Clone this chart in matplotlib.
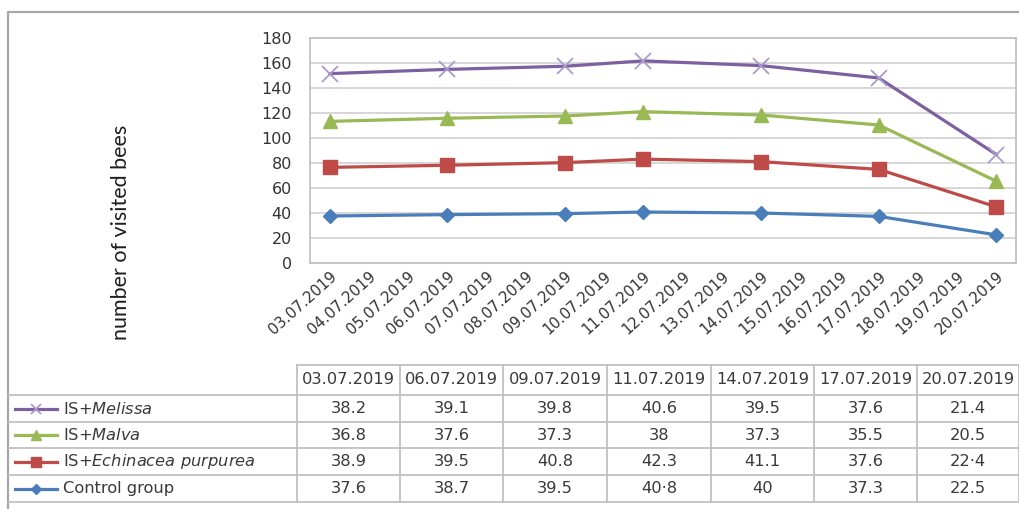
import matplotlib
matplotlib.use("Agg")
import matplotlib.pyplot as plt
import matplotlib.dates as mdates
from matplotlib.lines import Line2D
import numpy as np
import datetime as dt

# ---------------- data ----------------
dates = ["03.07.2019", "06.07.2019", "09.07.2019", "11.07.2019",
         "14.07.2019", "17.07.2019", "20.07.2019"]
control = [37.6, 38.7, 39.5, 40.8, 40, 37.3, 22.5]
echinacea = [38.9, 39.5, 40.8, 42.3, 41.1, 37.6, 22.4]
malva = [36.8, 37.6, 37.3, 38, 37.3, 35.5, 20.5]
melissa = [38.2, 39.1, 39.8, 40.6, 39.5, 37.6, 21.4]
table_value_text = {
    "melissa": ["38.2", "39.1", "39.8", "40.6", "39.5", "37.6", "21.4"],
    "malva": ["36.8", "37.6", "37.3", "38", "37.3", "35.5", "20.5"],
    "echinacea": ["38.9", "39.5", "40.8", "42.3", "41.1", "37.6", "22·4"],
    "control": ["37.6", "38.7", "39.5", "40·8", "40", "37.3", "22.5"],
}
y_ticks = [0, 20, 40, 60, 80, 100, 120, 140, 160, 180]
y_label = "number of visited bees"

W, H = 1019, 509
plt.rcParams['font.family'] = ['DejaVu Sans']
plt.rcParams['mathtext.fontset'] = 'custom'
plt.rcParams['mathtext.it'] = 'DejaVu Sans:italic'
plt.rcParams['mathtext.rm'] = 'DejaVu Sans'

fig = plt.figure(figsize=(W / 100, H / 100), dpi=100)
fig.patch.set_facecolor('white')

def fx(x):
    return x / W

def fy(y):
    return 1 - y / H

# plot area
left, right, top, bottom = 310, 1016, 38, 263
ax = fig.add_axes([fx(left), fy(bottom), fx(right) - fx(left), fy(top) - fy(bottom)])

xd = [dt.datetime.strptime(d, "%d.%m.%Y") for d in dates]
xn = mdates.date2num(xd)

s1 = np.array(control)
s2 = s1 + np.array(echinacea)
s3 = s2 + np.array(malva)
s4 = s3 + np.array(melissa)

c_blue = '#4A7EBB'
c_red = '#BE4B48'
c_green = '#98B954'
c_purple = '#7D60A0'

series = [
    dict(y=s4, color=c_purple, marker='x', ms=11, mfc='#A99BCB', mec='#A99BCB', mew=1.3, key='melissa',
         label=r"IS+$\it{Melissa}$"),
    dict(y=s3, color=c_green, marker='^', ms=10, mfc=c_green, mec=c_green, mew=1, key='malva',
         label=r"IS+$\it{Malva}$"),
    dict(y=s2, color=c_red, marker='s', ms=10, mfc=c_red, mec=c_red, mew=1, key='echinacea',
         label=r"IS+$\it{Echinacea\ purpurea}$"),
    dict(y=s1, color=c_blue, marker='D', ms=7, mfc=c_blue, mec=c_blue, mew=1, key='control',
         label="Control group"),
]
for s in series:
    ax.plot(xn, s['y'], color=s['color'], lw=2.3, marker=s['marker'], ms=s['ms'],
            mfc=s['mfc'], mec=s['mec'], mew=s['mew'], zorder=3)

ax.set_ylim(0, 180)
ax.set_yticks(y_ticks)
ax.set_xlim(xn[0] - 0.5, xn[-1] + 0.5)
day_ticks = np.arange(xn[0], xn[-1] + 0.5, 1.0)
ax.set_xticks(day_ticks)
ax.xaxis.set_major_formatter(mdates.DateFormatter('%d.%m.%Y'))
ax.grid(axis='y', color='#D0D0D0', lw=1.2)
ax.set_axisbelow(True)
for sp in ax.spines.values():
    sp.set_color('#BEBEBE')
    sp.set_linewidth(1.2)
ax.tick_params(axis='both', length=0, colors='#333333')
ax.tick_params(axis='y', labelsize=11.5, pad=13)
ax.tick_params(axis='x', labelsize=10.8, pad=4)
for lab in ax.get_xticklabels():
    lab.set_rotation(42)
    lab.set_ha('right')
    lab.set_va('top')
    lab.set_rotation_mode('anchor')

fig.text(fx(121), fy(232), y_label, rotation=90, ha='center', va='center',
         fontsize=15.5, color='#1E1E1E', family=['Lato', 'DejaVu Sans'])

# outer frame
frame_c = '#A6A6A6'
fig.add_artist(Line2D([fx(8), fx(8), fx(1018)], [fy(509), fy(12), fy(12)],
                      transform=fig.transFigure, color=frame_c, lw=1.6))

# data table
grid_c = '#C0C0C0'
col_edges = [297, 400, 503, 607, 711, 814, 917, 1019]
row_edges = [365, 395, 422, 448, 475, 502]

def hline(x0, x1, y):
    fig.add_artist(Line2D([fx(x0), fx(x1)], [fy(y), fy(y)], transform=fig.transFigure,
                          color=grid_c, lw=1.3))

def vline(x, y0, y1):
    fig.add_artist(Line2D([fx(x), fx(x)], [fy(y0), fy(y1)], transform=fig.transFigure,
                          color=grid_c, lw=1.3))

hline(col_edges[0], col_edges[-1], row_edges[0])
for y in row_edges[1:]:
    hline(8, col_edges[-1], y)
for x in col_edges:
    vline(x, row_edges[0], row_edges[-1])

txt_c = '#3A3A3A'
for i, d in enumerate(dates):
    cx = (col_edges[i] + col_edges[i + 1]) / 2
    fig.text(fx(cx), fy((row_edges[0] + row_edges[1]) / 2), d, ha='center', va='center',
             fontsize=11.7, color=txt_c)

for r, s in enumerate(series):
    cy = (row_edges[r + 1] + row_edges[r + 2]) / 2
    for i, v in enumerate(table_value_text[s['key']]):
        cx = (col_edges[i] + col_edges[i + 1]) / 2
        fig.text(fx(cx), fy(cy), v, ha='center', va='center', fontsize=11.7, color=txt_c)
    fig.add_artist(Line2D([fx(15), fx(57)], [fy(cy), fy(cy)], transform=fig.transFigure,
                          color=s['color'], lw=2.3))
    fig.add_artist(Line2D([fx(36)], [fy(cy)], transform=fig.transFigure, color=s['color'],
                          marker=s['marker'], ms=s['ms'] * 0.7, mfc=s['mfc'], mec=s['mec'],
                          mew=s['mew'], lw=0))
    fig.text(fx(63), fy(cy), s['label'], ha='left', va='center', fontsize=11.7, color=txt_c)

fig.savefig('out.png', dpi=100, facecolor='white')
